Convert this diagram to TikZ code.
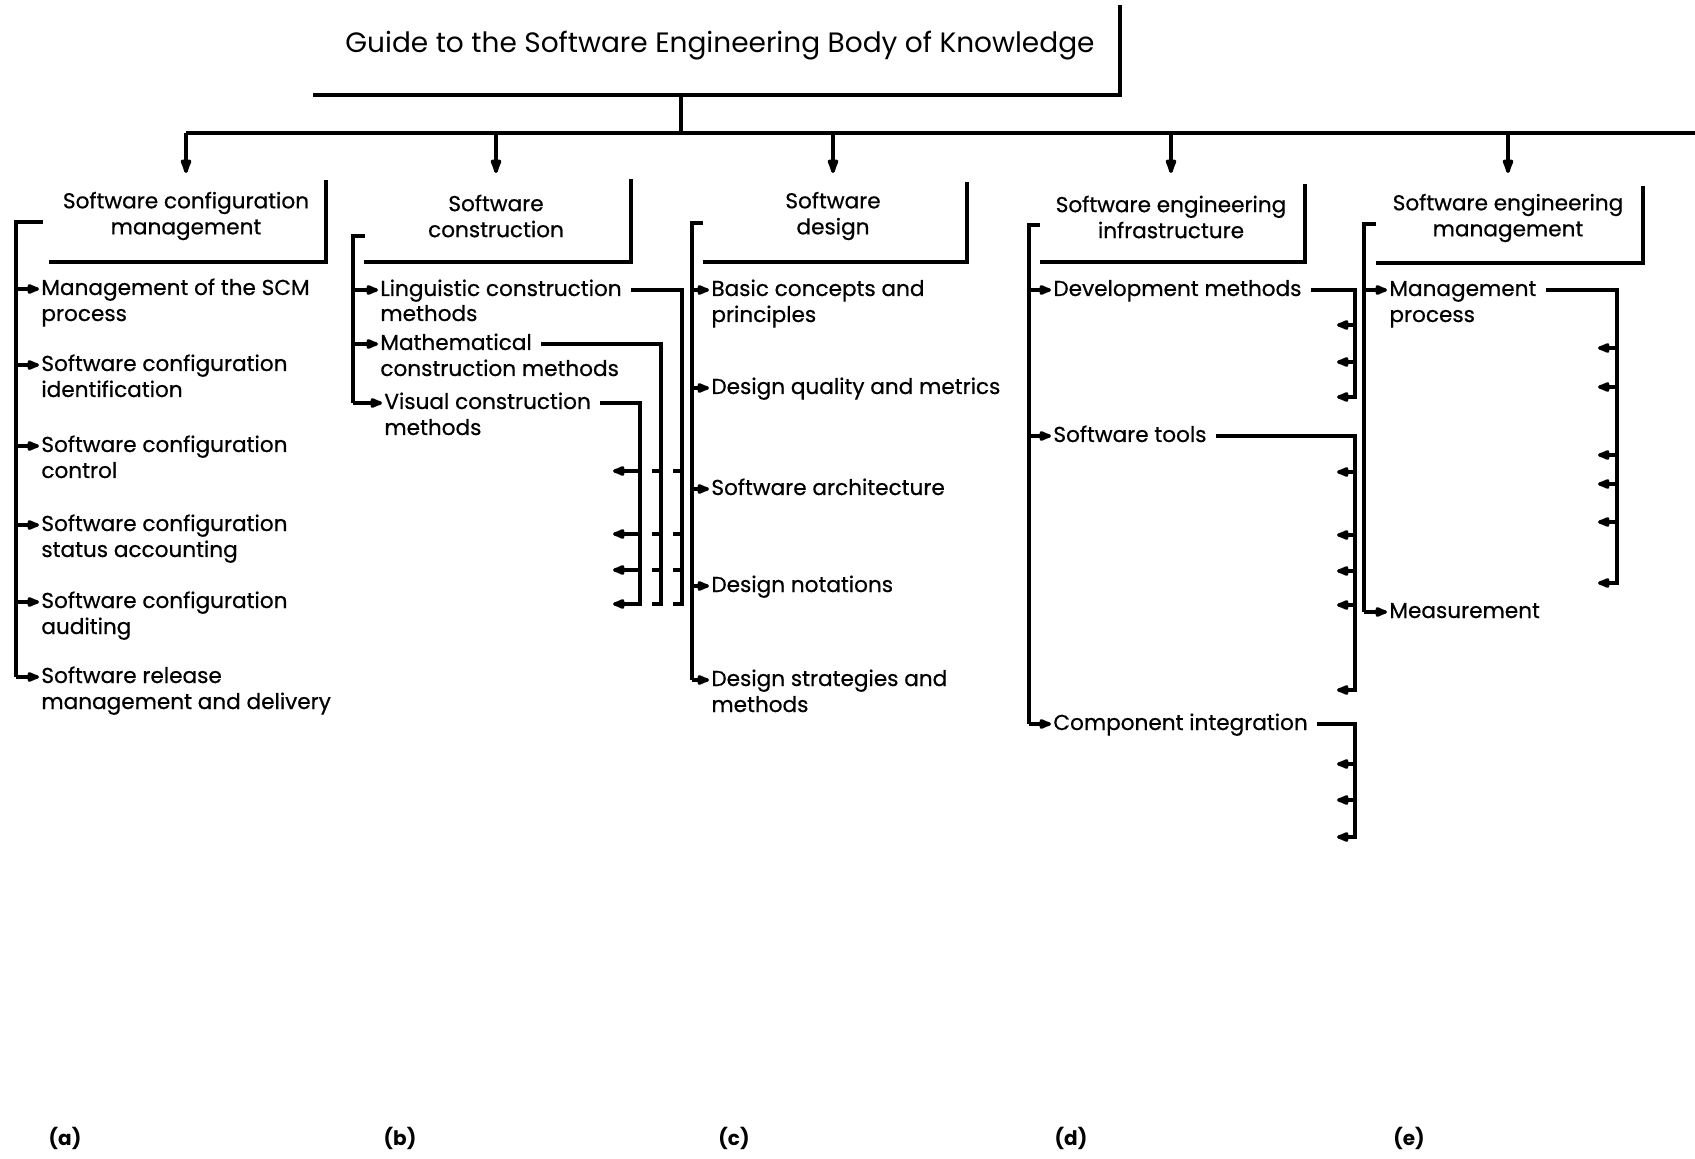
\documentclass[tikz,border=0pt]{standalone}
\usepackage{fontspec}
\setmainfont{Poppins}
\newfontfamily\itemfont{Poppins}[FakeBold=0.6]
\usetikzlibrary{arrows.meta,calc}
\begin{document}
\begin{tikzpicture}[x=0.5pt,y=-0.5pt,
  every node/.style={inner sep=0pt},
  lnk/.style={line width=1.8pt, line join=miter},
  frm/.style={line width=1.6pt},
  busline/.style={line width=2.4pt},
  drop/.style={line width=1.8pt, -{Latex[length=10pt,width=6.5pt,round]}},
  itemarr/.style={line width=1.7pt, line join=miter, -{Latex[length=8.5pt,width=6pt,round]}},
  itm/.style={anchor=west, font=\itemfont\fontsize{10.8}{13}\selectfont, text height=8pt, text depth=2pt, inner xsep=1pt},
  cat/.style={align=center, font=\itemfont\fontsize{10.8}{13}\selectfont},
  ttl/.style={font=\fontsize{14}{17}\selectfont},
  sub/.style={font=\bfseries\fontsize{10}{12}\selectfont}]
\useasboundingbox[fill=white] (0,0) rectangle (1695,1159);

% ---------- title and main bus ----------
\node[ttl] (title) at (720,46) {Guide to the Software Engineering Body of Knowledge};
\coordinate (tl) at (313,95);
\coordinate (tr) at (1120,95);
\coordinate (tt) at (1120,5);
\draw[frm] (tl) -- (tr) -- (tt);
\coordinate (stemtop) at (681,95);
\coordinate (stembot) at (681,133);
\draw[frm] (stemtop) -- (stembot);
\coordinate (busL) at (186,133);
\coordinate (busR) at (1695,133);
\draw[busline] (busL) -- (busR);

% ---------- knowledge areas ----------
\node[cat] (ca) at (186,216) {Software configuration\\management};
\node[cat] (cb) at (496,216) {Software\\construction};
\node[cat] (cc) at (833,216) {Software\\design};
\node[cat] (cd) at (1171,217) {Software engineering\\infrastructure};
\node[cat] (ce) at (1508,218) {Software engineering\\management};

\foreach \c in {ca,cb,cc,cd,ce}
  \draw[drop] (\c.north |- busL) -- ++(0,40);

% open frames: bottom and right edges
\draw[frm] (49,262) -- (326,262) -- (326,180);
\draw[frm] (364,262) -- (631,262) -- (631,179);
\draw[frm] (703,262) -- (967,262) -- (967,182);
\draw[frm] (1040,262) -- (1305,262) -- (1305,184);
\draw[frm] (1376,263) -- (1643,263) -- (1643,186);

% ---------- (a) configuration management ----------
\coordinate (brAs) at (43,222);
\coordinate (brA) at (16,222);
\node[itm] (a1) at (39,289) {Management of the SCM};
\node[itm] (a1b) at (39,315) {process};
\node[itm] (a2) at (39,365) {Software configuration};
\node[itm] (a2b) at (39,391) {identification};
\node[itm] (a3) at (39,446) {Software configuration};
\node[itm] (a3b) at (39,472) {control};
\node[itm] (a4) at (39,525) {Software configuration};
\node[itm] (a4b) at (39,551) {status accounting};
\node[itm] (a5) at (39,602) {Software configuration};
\node[itm] (a5b) at (39,628) {auditing};
\node[itm] (a6) at (39,677) {Software release};
\node[itm] (a6b) at (39,703) {management and delivery};
\draw[lnk] (brAs) -- (brA) -- (a6.west -| brA);
\foreach \n in {a1,a2,a3,a4,a5,a6}
  \draw[itemarr] (\n.west -| brA) -- (\n.west);

% ---------- (b) construction ----------
\coordinate (brBs) at (365,236);
\coordinate (brB) at (353,236);
\node[itm] (b1) at (378,290) {Linguistic construction};
\node[itm] (b1b) at (378,315) {methods};
\node[itm] (b2) at (378,344) {Mathematical};
\node[itm] (b2b) at (378,370) {construction methods};
\node[itm] (b3) at (382,403) {Visual construction};
\node[itm] (b3b) at (382,429) {methods};
\draw[lnk] (brBs) -- (brB) -- (b3.west -| brB);
\foreach \n in {b1,b2,b3}
  \draw[itemarr] (\n.west -| brB) -- (\n.west);

\coordinate (vbL) at (640,604);
\coordinate (vbM) at (661,604);
\coordinate (vbR) at (682,604);
\draw[lnk] ([xshift=3.5pt]b1.east) -| (vbR) -- ++(-9,0);
\draw[lnk] ([xshift=3.5pt]b2.east) -| (vbM) -- ++(-9,0);
\coordinate (bt604) at (613,604);
\draw[itemarr] ([xshift=3.5pt]b3.east) -| (vbL) -- (bt604);
\foreach \yy in {471,534,570} {
  \coordinate (bt\yy) at (613,\yy);
  \draw[itemarr] (vbL |- bt\yy) -- (bt\yy);
  \draw[lnk] (vbM |- bt\yy) -- ++(-9,0);
  \draw[lnk] (vbR |- bt\yy) -- ++(-9,0);
}

% ---------- (c) design ----------
\coordinate (brCs) at (703,223);
\coordinate (brC) at (692,223);
\node[itm] (c1) at (709,290) {Basic concepts and};
\node[itm] (c1b) at (709,316) {principles};
\node[itm] (c2) at (709,388) {Design quality and metrics};
\node[itm] (c3) at (709,489) {Software architecture};
\node[itm] (c4) at (709,586) {Design notations};
\node[itm] (c5) at (709,680) {Design strategies and};
\node[itm] (c5b) at (709,706) {methods};
\draw[lnk] (brCs) -- (brC) -- (c5.west -| brC);
\foreach \n in {c1,c2,c3,c4,c5}
  \draw[itemarr] (\n.west -| brC) -- (\n.west);

% ---------- (d) infrastructure ----------
\coordinate (brDs) at (1040,225);
\coordinate (brD) at (1029,225);
\node[itm] (d1) at (1051,290) {Development methods};
\node[itm] (d2) at (1051,436) {Software tools};
\node[itm] (d3) at (1051,724) {Component integration};
\draw[lnk] (brDs) -- (brD) -- (d3.west -| brD);
\foreach \n in {d1,d2,d3}
  \draw[itemarr] (\n.west -| brD) -- (\n.west);

\coordinate (vd1) at (1355,397);
\coordinate (vd2) at (1355,690);
\coordinate (vd3) at (1355,837);
\coordinate (dt397) at (1337,397);
\coordinate (dt690) at (1337,690);
\coordinate (dt837) at (1337,837);
\draw[itemarr] ([xshift=3.5pt]d1.east) -| (vd1) -- (dt397);
\draw[itemarr] ([xshift=3.5pt]d2.east) -| (vd2) -- (dt690);
\draw[itemarr] ([xshift=3.5pt]d3.east) -| (vd3) -- (dt837);
\foreach \yy in {325,362,472,535,571,605,764,800} {
  \coordinate (dt\yy) at (1337,\yy);
  \draw[itemarr] (vd1 |- dt\yy) -- (dt\yy);
}

% ---------- (e) management ----------
\coordinate (brEs) at (1376,224);
\coordinate (brE) at (1364,224);
\node[itm] (e1) at (1387,290) {Management};
\node[itm] (e1b) at (1387,316) {process};
\node[itm] (e2) at (1387,612) {Measurement};
\draw[lnk] (brEs) -- (brE) -- (e2.west -| brE);
\foreach \n in {e1,e2}
  \draw[itemarr] (\n.west -| brE) -- (\n.west);

\coordinate (ve) at (1617,583);
\coordinate (et583) at (1598,583);
\draw[itemarr] ([xshift=3.5pt]e1.east) -| (ve) -- (et583);
\foreach \yy in {348,387,455,484,522} {
  \coordinate (et\yy) at (1598,\yy);
  \draw[itemarr] (ve |- et\yy) -- (et\yy);
}

% ---------- panel letters ----------
\node[sub] (la) at (65,1138) {(a)};
\node[sub] (lb) at (400,1138) {(b)};
\node[sub] (lc) at (734,1138) {(c)};
\node[sub] (ld) at (1071,1138) {(d)};
\node[sub] (le) at (1409,1138) {(e)};
\end{tikzpicture}
\end{document}
